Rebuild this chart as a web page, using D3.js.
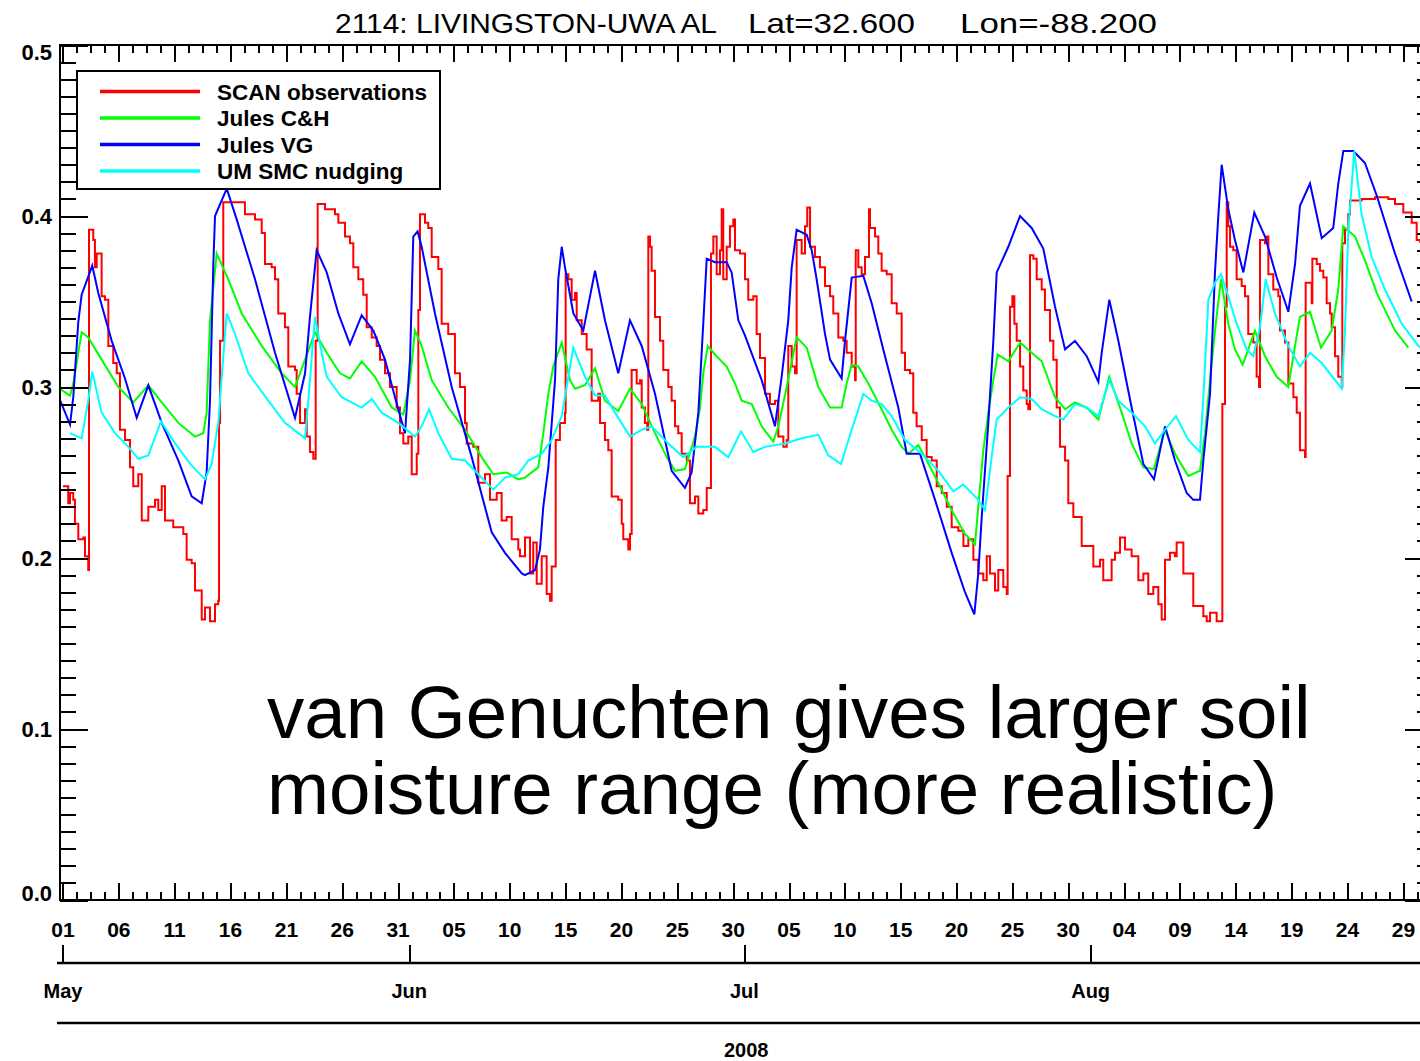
<!DOCTYPE html>
<html>
<head>
<meta charset="utf-8">
<script src="https://cdn.jsdelivr.net/npm/d3@7"></script>
<style>
  html, body { margin: 0; padding: 0; background: #fff; }
  svg { display: block; }
  text { font-family: "Liberation Sans", Arial, sans-serif; fill: #000; }
</style>
</head>
<body>
<svg id="chart" width="1420" height="1061"></svg>
<script>
// Soil moisture, station 2114 (Livingston-UWA, AL), May-Aug 2008.
// Each series: [days since 2008-05-01 00:00 UTC, volumetric soil moisture]

const scanObs = [
  [0.00,0.242],[0.47,0.232],[0.63,0.238],[0.92,0.234],[1.07,0.220],[1.37,0.211],[1.82,0.212],[1.97,0.201],[2.26,0.193],[2.33,0.392],
  [2.71,0.386],[2.86,0.370],[3.02,0.378],[3.46,0.353],[3.76,0.351],[4.06,0.324],[4.50,0.314],[4.81,0.308],[5.10,0.275],[5.55,0.269],
  [6.00,0.253],[6.29,0.242],[6.74,0.249],[7.05,0.222],[7.64,0.230],[8.24,0.234],[8.53,0.228],[8.84,0.242],[9.13,0.222],[9.87,0.218],
  [10.77,0.214],[11.07,0.199],[11.52,0.197],[11.82,0.181],[12.42,0.164],[12.71,0.171],[13.16,0.163],[13.61,0.173],[13.90,0.175],[13.97,0.279],
  [14.06,0.327],[14.35,0.408],[15.10,0.408],[16.29,0.401],[17.19,0.398],[17.79,0.390],[18.08,0.372],[18.68,0.370],[18.98,0.363],[19.27,0.343],
  [19.87,0.335],[20.17,0.312],[20.77,0.310],[20.92,0.296],[21.22,0.279],[21.67,0.287],[21.82,0.271],[22.11,0.262],[22.41,0.258],[22.62,0.327],
  [22.80,0.407],[23.46,0.404],[24.35,0.401],[24.65,0.396],[25.25,0.388],[25.69,0.384],[25.99,0.370],[26.44,0.363],[26.88,0.354],[27.19,0.335],
  [27.64,0.329],[28.08,0.324],[28.38,0.316],[28.83,0.308],[29.27,0.300],[29.87,0.288],[30.17,0.273],[30.47,0.267],[30.91,0.271],[31.22,0.249],
  [31.67,0.261],[31.81,0.345],[31.96,0.401],[32.41,0.396],[32.70,0.393],[33.01,0.376],[33.60,0.369],[33.90,0.337],[34.49,0.331],[35.09,0.308],
  [35.54,0.300],[35.99,0.279],[36.14,0.267],[36.73,0.265],[37.18,0.244],[37.78,0.249],[38.23,0.234],[38.83,0.238],[39.27,0.222],[39.72,0.224],
  [40.17,0.211],[40.76,0.205],[40.91,0.201],[41.36,0.212],[41.81,0.191],[42.10,0.209],[42.41,0.185],[42.86,0.201],[43.30,0.179],[43.60,0.175],
  [43.75,0.195],[44.05,0.195],[44.11,0.269],[44.49,0.279],[44.94,0.285],[45.00,0.366],[45.24,0.363],[45.54,0.351],[45.84,0.355],[45.99,0.339],
  [46.44,0.331],[46.88,0.322],[47.33,0.292],[47.92,0.296],[48.08,0.279],[48.52,0.269],[48.82,0.263],[49.12,0.236],[49.71,0.234],[50.02,0.220],
  [50.16,0.211],[50.61,0.205],[50.76,0.214],[50.91,0.310],[51.36,0.302],[51.66,0.304],[51.81,0.288],[52.10,0.279],[52.30,0.275],[52.40,0.388],
  [52.55,0.382],[52.70,0.368],[53.00,0.341],[53.45,0.327],[53.74,0.310],[54.19,0.300],[54.49,0.292],[54.79,0.277],[55.08,0.273],[55.39,0.261],
  [55.84,0.257],[56.13,0.232],[56.58,0.236],[56.88,0.226],[57.32,0.228],[57.63,0.241],[58.01,0.378],[58.22,0.388],[58.52,0.366],[58.82,0.380],
  [58.97,0.404],[59.11,0.363],[59.42,0.382],[59.71,0.394],[60.01,0.398],[60.16,0.380],[60.61,0.378],[61.06,0.363],[61.35,0.351],[61.80,0.353],
  [62.10,0.331],[62.40,0.317],[62.85,0.296],[63.29,0.290],[63.74,0.292],[64.04,0.271],[64.49,0.265],[64.79,0.269],[64.93,0.324],[65.24,0.312],
  [65.53,0.308],[65.68,0.386],[66.13,0.378],[66.43,0.394],[66.63,0.405],[66.88,0.382],[67.32,0.376],[67.77,0.370],[68.22,0.359],[68.67,0.353],
  [68.96,0.343],[69.41,0.329],[69.86,0.327],[70.16,0.320],[70.61,0.312],[70.91,0.304],[70.97,0.380],[71.20,0.370],[71.50,0.366],[71.80,0.376],
  [72.16,0.404],[72.25,0.393],[72.70,0.388],[72.99,0.378],[73.29,0.368],[73.74,0.366],[74.19,0.349],[74.64,0.343],[75.08,0.320],[75.38,0.310],
  [75.83,0.308],[76.12,0.285],[76.42,0.277],[76.88,0.269],[77.32,0.259],[77.77,0.257],[78.22,0.242],[78.67,0.238],[79.12,0.230],[79.56,0.218],
  [80.16,0.216],[80.61,0.207],[81.05,0.211],[81.50,0.199],[81.94,0.191],[82.39,0.187],[82.70,0.201],[82.99,0.191],[83.44,0.181],[83.73,0.193],
  [84.18,0.183],[84.49,0.179],[84.57,0.248],[84.78,0.347],[84.99,0.353],[85.17,0.337],[85.38,0.327],[85.68,0.312],[85.97,0.298],[86.28,0.290],
  [86.42,0.287],[86.57,0.377],[86.87,0.375],[87.17,0.363],[87.62,0.357],[87.91,0.345],[88.36,0.327],[88.66,0.316],[88.96,0.288],[89.26,0.265],
  [89.71,0.257],[90.00,0.232],[90.45,0.224],[91.20,0.207],[92.24,0.195],[92.84,0.199],[93.13,0.187],[93.88,0.199],[94.18,0.203],[94.63,0.212],
  [95.08,0.205],[95.67,0.201],[96.27,0.187],[96.72,0.191],[97.16,0.179],[97.61,0.183],[98.06,0.173],[98.36,0.164],[98.66,0.199],[99.10,0.203],
  [99.55,0.201],[99.70,0.209],[100.30,0.191],[101.19,0.172],[102.09,0.166],[102.39,0.163],[102.69,0.168],[103.28,0.163],[103.79,0.290],[104.03,0.347],
  [104.18,0.408],[104.32,0.394],[104.48,0.382],[104.77,0.380],[105.07,0.363],[105.52,0.359],[105.82,0.353],[106.11,0.331],[106.56,0.326],[106.86,0.306],
  [107.07,0.300],[107.16,0.386],[107.61,0.384],[107.76,0.388],[107.91,0.366],[108.35,0.357],[108.80,0.353],[108.95,0.333],[109.40,0.326],[109.70,0.302],
  [110.15,0.294],[110.45,0.285],[110.74,0.263],[111.19,0.259],[111.25,0.361],[111.79,0.349],[111.85,0.375],[112.24,0.372],[112.53,0.368],[112.83,0.364],
  [113.13,0.349],[113.43,0.343],[113.58,0.335],[113.88,0.318],[114.17,0.306],[114.48,0.300],[114.53,0.384],[114.77,0.392],[115.07,0.401],[115.22,0.409],
  [116.26,0.410],[117.46,0.411],[118.65,0.410],[119.25,0.407],[119.99,0.402],[120.74,0.396],[121.19,0.386],[121.49,0.385],[122.65,0.382]
];

const julesCH = [
  [-0.31,0.299],[0.63,0.295],[0.92,0.302],[1.37,0.320],[1.67,0.332],[2.26,0.329],[3.46,0.316],[4.95,0.300],[6.29,0.291],[7.64,0.301],
  [8.84,0.291],[10.33,0.279],[11.82,0.271],[12.56,0.273],[12.86,0.285],[13.16,0.339],[13.76,0.378],[14.80,0.363],[16.00,0.343],[17.79,0.324],
  [19.58,0.308],[20.77,0.300],[21.67,0.316],[22.56,0.332],[23.61,0.320],[24.80,0.308],[25.69,0.305],[26.74,0.315],[27.93,0.306],[29.43,0.288],
  [30.47,0.284],[31.07,0.304],[31.51,0.333],[32.11,0.324],[33.01,0.304],[34.49,0.288],[35.99,0.275],[37.48,0.259],[38.52,0.249],[39.72,0.250],
  [40.76,0.246],[41.36,0.247],[42.55,0.253],[43.00,0.273],[43.45,0.296],[43.89,0.312],[44.65,0.326],[45.39,0.304],[45.84,0.299],[46.73,0.301],
  [47.63,0.311],[48.52,0.292],[49.71,0.286],[50.76,0.299],[51.81,0.290],[53.00,0.273],[54.05,0.259],[54.79,0.251],[55.68,0.252],[56.58,0.271],
  [57.03,0.288],[57.32,0.308],[57.72,0.324],[58.37,0.319],[59.42,0.312],[60.16,0.302],[60.76,0.292],[61.66,0.290],[62.55,0.277],[63.59,0.268],
  [64.04,0.277],[64.79,0.300],[65.68,0.329],[66.58,0.323],[67.62,0.300],[68.67,0.288],[69.71,0.288],[70.16,0.302],[70.61,0.313],[71.20,0.312],
  [72.10,0.302],[73.29,0.287],[74.19,0.275],[75.08,0.265],[75.68,0.261],[76.57,0.266],[77.17,0.259],[78.36,0.244],[79.56,0.228],[80.75,0.214],
  [81.65,0.208],[81.94,0.230],[82.39,0.263],[82.84,0.285],[83.29,0.304],[83.68,0.319],[84.63,0.315],[85.68,0.326],[86.72,0.320],[87.62,0.315],
  [88.81,0.294],[89.71,0.287],[90.60,0.291],[91.65,0.288],[92.69,0.281],[93.67,0.306],[94.78,0.285],[95.67,0.267],[96.72,0.253],[97.67,0.252],
  [98.66,0.275],[99.55,0.261],[100.74,0.248],[101.79,0.251],[102.24,0.273],[102.54,0.294],[103.13,0.333],[103.67,0.363],[104.32,0.337],[104.92,0.322],
  [105.61,0.313],[106.71,0.333],[107.61,0.318],[108.66,0.306],[109.70,0.300],[110.30,0.324],[110.74,0.341],[111.64,0.344],[112.62,0.323],[113.58,0.333],
  [114.17,0.357],[114.62,0.394],[115.67,0.388],[116.56,0.374],[117.61,0.355],[119.25,0.333],[120.44,0.323]
];

const julesVG = [
  [-0.31,0.293],[0.63,0.278],[0.92,0.294],[1.37,0.338],[1.67,0.354],[2.62,0.371],[3.16,0.355],[4.36,0.327],[5.55,0.305],[6.60,0.282],
  [7.64,0.301],[8.84,0.279],[10.33,0.257],[11.52,0.236],[12.42,0.232],[12.86,0.250],[13.16,0.292],[13.46,0.372],[13.61,0.400],[14.66,0.416],
  [15.55,0.398],[17.19,0.363],[18.98,0.320],[20.77,0.282],[21.67,0.308],[22.11,0.341],[22.71,0.380],[23.61,0.367],[24.65,0.343],[25.69,0.325],
  [26.74,0.342],[27.78,0.333],[28.83,0.316],[29.72,0.294],[30.62,0.273],[31.07,0.316],[31.36,0.388],[31.75,0.391],[32.11,0.382],[33.30,0.343],
  [34.80,0.300],[36.59,0.259],[38.38,0.215],[39.57,0.203],[41.07,0.191],[41.36,0.190],[42.26,0.193],[42.70,0.205],[43.00,0.230],[43.45,0.253],
  [44.05,0.304],[44.34,0.363],[44.65,0.382],[44.94,0.370],[45.69,0.343],[46.58,0.333],[47.63,0.368],[48.52,0.339],[49.71,0.308],[50.76,0.339],
  [51.81,0.324],[53.00,0.296],[54.49,0.251],[55.68,0.241],[56.28,0.250],[56.88,0.285],[57.32,0.337],[57.63,0.375],[58.37,0.373],[59.42,0.373],
  [59.86,0.367],[60.46,0.339],[61.06,0.330],[62.55,0.304],[63.74,0.277],[64.34,0.306],[64.93,0.339],[65.24,0.370],[65.68,0.392],[66.58,0.389],
  [67.03,0.380],[67.47,0.363],[68.22,0.331],[68.67,0.316],[69.71,0.305],[70.01,0.327],[70.61,0.364],[71.65,0.365],[72.40,0.349],[73.59,0.318],
  [74.78,0.288],[75.53,0.261],[76.72,0.261],[78.07,0.234],[79.56,0.203],[80.75,0.180],[81.59,0.167],[81.94,0.191],[82.25,0.224],[82.84,0.279],
  [83.29,0.327],[83.59,0.367],[84.63,0.382],[85.68,0.400],[86.72,0.393],[87.76,0.381],[88.81,0.347],[89.71,0.322],[90.60,0.327],[91.65,0.318],
  [92.69,0.303],[92.99,0.320],[93.67,0.351],[94.48,0.327],[95.67,0.288],[96.72,0.255],[97.67,0.246],[98.66,0.277],[99.55,0.257],[100.60,0.238],
  [101.19,0.234],[101.79,0.234],[102.09,0.257],[102.69,0.296],[103.13,0.367],[103.43,0.400],[103.73,0.430],[104.32,0.404],[104.92,0.386],[105.67,0.367],
  [106.65,0.402],[107.61,0.388],[108.66,0.364],[109.70,0.344],[110.30,0.372],[110.74,0.406],[111.64,0.419],[112.69,0.387],[113.72,0.393],[114.17,0.419],
  [114.62,0.438],[115.52,0.438],[116.56,0.431],[117.61,0.412],[119.25,0.378],[120.74,0.350]
];

const umNudging = [
  [0.63,0.273],[1.67,0.270],[2.26,0.292],[2.62,0.309],[3.46,0.285],[4.66,0.273],[5.85,0.265],[6.74,0.258],[7.64,0.260],[8.77,0.280],
  [10.03,0.267],[11.52,0.254],[12.71,0.246],[13.31,0.255],[13.90,0.279],[14.35,0.318],[14.66,0.343],[15.40,0.331],[16.59,0.308],[18.38,0.292],
  [19.87,0.279],[21.67,0.270],[21.96,0.292],[22.56,0.341],[23.16,0.320],[23.61,0.306],[24.95,0.294],[26.14,0.290],[26.74,0.288],[27.64,0.293],
  [28.53,0.285],[30.02,0.279],[31.51,0.271],[32.11,0.277],[32.77,0.287],[33.60,0.273],[34.80,0.258],[35.99,0.257],[37.18,0.249],[38.52,0.240],
  [39.57,0.247],[40.76,0.249],[41.66,0.257],[42.86,0.261],[43.75,0.269],[44.65,0.283],[45.09,0.300],[45.68,0.323],[46.73,0.306],[47.63,0.295],
  [48.52,0.295],[49.42,0.285],[50.76,0.271],[51.81,0.275],[52.70,0.277],[54.19,0.267],[55.53,0.259],[56.73,0.265],[58.37,0.265],[59.56,0.259],
  [60.70,0.274],[61.80,0.262],[62.85,0.265],[64.64,0.267],[66.13,0.270],[67.62,0.272],[68.51,0.260],[69.65,0.255],[70.61,0.275],[71.65,0.296],
  [72.40,0.292],[73.29,0.290],[74.19,0.283],[75.38,0.269],[76.88,0.261],[78.36,0.251],[79.71,0.239],[80.60,0.243],[81.94,0.234],[82.54,0.228],
  [83.14,0.259],[83.59,0.281],[84.63,0.288],[85.68,0.294],[86.72,0.293],[87.62,0.287],[88.81,0.283],[89.55,0.281],[90.60,0.290],[91.65,0.288],
  [92.69,0.283],[93.67,0.304],[94.48,0.292],[95.67,0.285],[96.87,0.277],[97.76,0.267],[98.66,0.275],[99.64,0.283],[100.74,0.269],[101.79,0.262],
  [102.09,0.294],[102.54,0.351],[103.13,0.361],[103.67,0.366],[104.32,0.353],[105.07,0.337],[105.97,0.322],[106.56,0.318],[107.16,0.335],[107.67,0.363],
  [108.50,0.343],[109.70,0.324],[110.74,0.312],[111.64,0.320],[112.69,0.314],[114.48,0.299],[114.77,0.333],[115.07,0.392],[115.60,0.438],[116.26,0.401],
  [117.16,0.376],[118.35,0.357],[119.85,0.337],[121.34,0.324],[122.65,0.318]
];

const seriesNames  = ["SCAN observations", "Jules C&H", "Jules VG", "UM SMC nudging"];
const seriesColors = ["#ff0000", "#00ff00", "#0000ff", "#00ffff"];
const seriesData   = [scanObs, julesCH, julesVG, umNudging];

const yTickValues = [0, 0.1, 0.2, 0.3, 0.4, 0.5];
const titleParts  = ["2114: LIVINGSTON-UWA AL", "Lat=32.600", "Lon=-88.200"];
const noteLines   = ["van Genuchten gives larger soil", "moisture range (more realistic)"];

// ---------------------------------------------------------------------------
const svg = d3.select("#chart");
const box = { left: 59.5, right: 1433, top: 45, bottom: 900 };
const MAY1 = Date.UTC(2008, 4, 1);
const toDate = d => new Date(MAY1 + d * 864e5);

const x = d3.scaleUtc().domain([toDate(-0.3125), toDate(122.65)]).range([box.left, box.right]);
const y = d3.scaleLinear().domain([0, 0.5]).range([box.bottom, box.top]);

svg.append("rect").attr("width", 1420).attr("height", 1061).attr("fill", "#fff");

// plotting area clip
svg.append("clipPath").attr("id", "plotClip")
  .append("rect")
  .attr("x", box.left).attr("y", box.top)
  .attr("width", box.right - box.left).attr("height", box.bottom - box.top);

// ---- series -----------------------------------------------------------------
const plot = svg.append("g").attr("clip-path", "url(#plotClip)");
seriesData.forEach((data, i) => {
  const line = d3.line()
    .x(p => x(toDate(p[0])))
    .y(p => y(p[1]))
    .curve(i === 0 ? d3.curveStepAfter : d3.curveLinear);
  plot.append("path")
    .datum(data)
    .attr("d", line)
    .attr("fill", "none")
    .attr("stroke", seriesColors[i])
    .attr("stroke-width", 2)
    .attr("stroke-linejoin", "miter");
});

// ---- frame & inward ticks ---------------------------------------------------
const majorDays = d3.range(0, 121, 5);
const minorDays = d3.range(0, 122.6, 1.25).filter(d => Math.abs(d / 5 - Math.round(d / 5)) > 1e-6);
const majorDates = majorDays.map(toDate);
const minorDates = minorDays.map(toDate);
const yMinor = d3.range(1, 50).filter(k => k % 10 !== 0).map(k => k / 100);

function styleAxis(g) {
  g.select(".domain").remove();
  g.selectAll(".tick line").attr("stroke", "#000").attr("stroke-width", 2);
  g.selectAll(".tick text").remove();
}

const axes = svg.append("g").attr("shape-rendering", "crispEdges");
// left
axes.append("g").attr("transform", `translate(${box.left},0)`)
  .call(d3.axisRight(y).tickValues(yTickValues).tickSize(28)).call(styleAxis);
axes.append("g").attr("transform", `translate(${box.left},0)`)
  .call(d3.axisRight(y).tickValues(yMinor).tickSize(16)).call(styleAxis);
// right
axes.append("g").attr("transform", `translate(${box.right},0)`)
  .call(d3.axisLeft(y).tickValues(yTickValues).tickSize(28)).call(styleAxis);
axes.append("g").attr("transform", `translate(${box.right},0)`)
  .call(d3.axisLeft(y).tickValues(yMinor).tickSize(16)).call(styleAxis);
// top
axes.append("g").attr("transform", `translate(0,${box.top})`)
  .call(d3.axisBottom(x).tickValues(majorDates).tickSize(17)).call(styleAxis);
axes.append("g").attr("transform", `translate(0,${box.top})`)
  .call(d3.axisBottom(x).tickValues(minorDates).tickSize(8)).call(styleAxis);
// bottom
axes.append("g").attr("transform", `translate(0,${box.bottom})`)
  .call(d3.axisTop(x).tickValues(majorDates).tickSize(17)).call(styleAxis);
axes.append("g").attr("transform", `translate(0,${box.bottom})`)
  .call(d3.axisTop(x).tickValues(minorDates).tickSize(8)).call(styleAxis);

axes.append("rect")
  .attr("x", box.left).attr("y", box.top)
  .attr("width", box.right - box.left).attr("height", box.bottom - box.top)
  .attr("fill", "none").attr("stroke", "#000").attr("stroke-width", 2);

// ---- y labels ---------------------------------------------------------------
svg.append("g").selectAll("text").data(yTickValues).join("text")
  .attr("x", 52)
  .attr("y", v => Math.min(893, Math.max(52, y(v))))
  .attr("dy", "0.36em")
  .attr("text-anchor", "end")
  .attr("font-size", 22).attr("font-weight", "bold")
  .text(d3.format(".1f"));

// ---- day labels -------------------------------------------------------------
svg.append("g").selectAll("text").data(majorDates).join("text")
  .attr("x", d => x(d))
  .attr("y", 937)
  .attr("text-anchor", "middle")
  .attr("font-size", 21).attr("font-weight", "bold")
  .text(d3.utcFormat("%d"));

// ---- month axis -------------------------------------------------------------
const monthY = 963;
const months = d3.utcMonth.range(toDate(-0.3125), toDate(122.65));
svg.append("line")
  .attr("x1", 57).attr("x2", box.right).attr("y1", monthY).attr("y2", monthY)
  .attr("stroke", "#000").attr("stroke-width", 2.5);
svg.append("g").attr("transform", `translate(0,${monthY})`).attr("shape-rendering", "crispEdges")
  .call(d3.axisTop(x).tickValues(months).tickSize(18)).call(styleAxis);
svg.append("g").selectAll("text").data(months).join("text")
  .attr("x", d => x(d))
  .attr("y", 998)
  .attr("text-anchor", "middle")
  .attr("font-size", 20).attr("font-weight", "bold")
  .text(d3.utcFormat("%b"));

// ---- year axis --------------------------------------------------------------
const yearY = 1023;
svg.append("line")
  .attr("x1", 57).attr("x2", box.right).attr("y1", yearY).attr("y2", yearY)
  .attr("stroke", "#000").attr("stroke-width", 2.5);
svg.append("text")
  .attr("x", (box.left + box.right) / 2)
  .attr("y", 1057)
  .attr("text-anchor", "middle")
  .attr("font-size", 20).attr("font-weight", "bold")
  .text(d3.utcFormat("%Y")(toDate(0)));

// ---- title ------------------------------------------------------------------
const titleX = [335, 748, 960];
const titleW = [382, 167, 197];
svg.append("g").selectAll("text").data(titleParts).join("text")
  .attr("x", (d, i) => titleX[i])
  .attr("y", 33)
  .attr("font-size", 28)
  .attr("textLength", (d, i) => titleW[i])
  .attr("lengthAdjust", "spacingAndGlyphs")
  .text(d => d);

// ---- legend -----------------------------------------------------------------
const legend = svg.append("g");
legend.append("rect")
  .attr("x", 77).attr("y", 71).attr("width", 363).attr("height", 118)
  .attr("fill", "#fff").attr("stroke", "#000").attr("stroke-width", 2);
const rows = legend.selectAll("g.row").data(seriesNames).join("g")
  .attr("class", "row")
  .attr("transform", (d, i) => `translate(0,${91.5 + i * 26.5})`);
rows.append("line")
  .attr("x1", 100).attr("x2", 200)
  .attr("stroke", (d, i) => seriesColors[i]).attr("stroke-width", 3.5);
rows.append("text")
  .attr("x", 217).attr("dy", "0.36em")
  .attr("font-size", 22.5).attr("font-weight", "bold")
  .text(d => d);

// ---- annotation -------------------------------------------------------------
svg.append("g").selectAll("text").data(noteLines).join("text")
  .attr("x", 267)
  .attr("y", (d, i) => 738 + i * 76)
  .attr("font-size", 74.5)
  .text(d => d);
</script>
</body>
</html>
